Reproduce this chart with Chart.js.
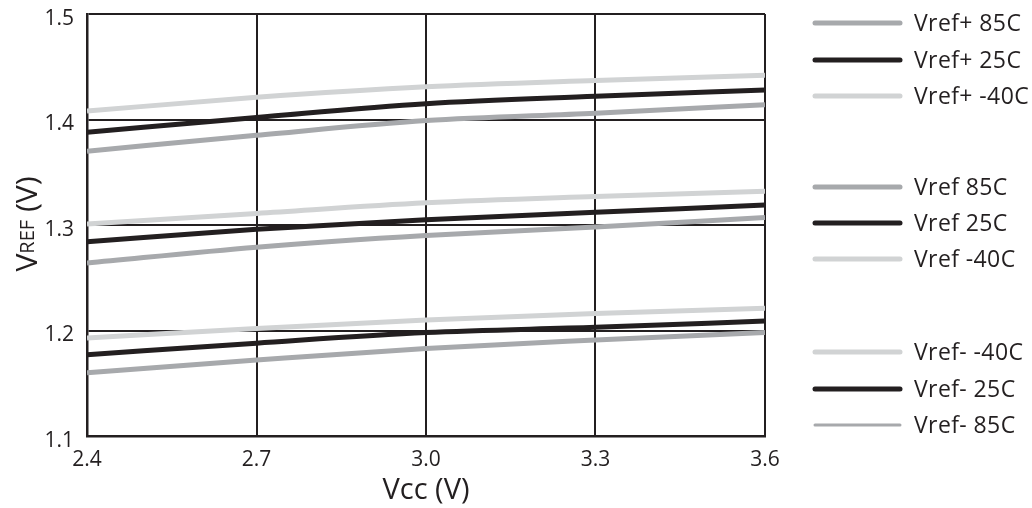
<!DOCTYPE html>
<html>
<head>
<meta charset="utf-8">
<script src="https://cdn.jsdelivr.net/npm/chart.js@4/dist/chart.umd.min.js"></script>
<style>
html,body{margin:0;padding:0;background:#fff;}
#wrap{width:1032px;height:508px;}
</style>
</head>
<body>
<div id="wrap"><canvas id="c" width="1032" height="508"></canvas></div>
<script>
// ---- data ----
const vcc = [2.4, 2.7, 3.0, 3.3, 3.6];
const xTicks = [2.4, 2.7, 3.0, 3.3, 3.6];
const yTicks = [1.1, 1.2, 1.3, 1.4, 1.5];

const vrefPlus85  = [1.370, 1.385, 1.399, 1.406, 1.414];
const vrefPlus25  = [1.388, 1.402, 1.415, 1.422, 1.428];
const vrefPlusM40 = [1.408, 1.421, 1.431, 1.437, 1.442];

const vref85  = [1.264, 1.279, 1.290, 1.298, 1.307];
const vref25  = [1.284, 1.296, 1.305, 1.312, 1.319];
const vrefM40 = [1.301, 1.311, 1.321, 1.327, 1.332];

const vrefMinusM40 = [1.193, 1.202, 1.210, 1.216, 1.221];
const vrefMinus25  = [1.177, 1.188, 1.198, 1.203, 1.209];
const vrefMinus85  = [1.160, 1.172, 1.183, 1.191, 1.198];

const labels = ['Vref+ 85C','Vref+ 25C','Vref+ -40C','Vref 85C','Vref 25C','Vref -40C','Vref- -40C','Vref- 25C','Vref- 85C'];

const LIGHT = '#d1d3d4', MID = '#a7a9ac', DARK = '#231f20';
const FONT = '"Open Sans", "Noto Sans", sans-serif';

function ds(label, vals, color, legendW){
  return {
    label, data: vcc.map((x,i)=>({x, y: vals[i]})),
    borderColor: color, borderWidth: 5, pointRadius: 0, fill: false,
    tension: 0.4, cubicInterpolationMode: 'monotone', legendW: legendW || 5
  };
}

const datasets = [
  ds(labels[0], vrefPlus85, MID),
  ds(labels[1], vrefPlus25, DARK),
  ds(labels[2], vrefPlusM40, LIGHT),
  ds(labels[3], vref85, MID),
  ds(labels[4], vref25, DARK),
  ds(labels[5], vrefM40, LIGHT),
  ds(labels[6], vrefMinusM40, LIGHT),
  ds(labels[7], vrefMinus25, DARK),
  ds(labels[8], vrefMinus85, MID, 3)
];

const legendRows = [23, 60, 96, 187, 223, 259, 352, 389, 425];

const customPlugin = {
  id: 'custom',
  afterDraw(chart){
    const ctx = chart.ctx;
    ctx.save();
    // legend
    chart.data.datasets.forEach((d, i) => {
      const y = legendRows[i];
      ctx.strokeStyle = d.borderColor;
      ctx.lineWidth = d.legendW;
      ctx.lineCap = 'round';
      ctx.beginPath();
      ctx.moveTo(815, y); ctx.lineTo(900, y);
      ctx.stroke();
      ctx.fillStyle = '#231f20';
      ctx.font = '23px ' + FONT;
      try { ctx.letterSpacing = '0.4px'; } catch(e) {}
      ctx.textBaseline = 'middle';
      ctx.textAlign = 'left';
      ctx.fillText(d.label, 914, y + 1);
    });
    try { ctx.letterSpacing = '0px'; } catch(e) {}
    // y title with subscript
    ctx.translate(37, 224);
    ctx.rotate(-Math.PI/2);
    ctx.fillStyle = '#231f20';
    ctx.textBaseline = 'alphabetic';
    const big = '30px ' + FONT, small = '20px ' + FONT;
    ctx.font = big; const w1 = ctx.measureText('V').width;
    ctx.font = small; const w2 = ctx.measureText('REF').width;
    ctx.font = big; const w3 = ctx.measureText(' (V)').width;
    let x0 = -(w1 + w2 + w3)/2;
    ctx.font = big; ctx.fillText('V', x0, 0);
    ctx.font = small; ctx.fillText('REF', x0 + w1, -3);
    ctx.font = big; ctx.fillText(' (V)', x0 + w1 + w2, 0);
    ctx.restore();
  }
};

new Chart(document.getElementById('c'), {
  type: 'line',
  data: { datasets },
  options: {
    responsive: false,
    animation: false,
    events: [],
    layout: { padding: { left: 0, top: 14, right: 267, bottom: 0 } },
    plugins: { legend: { display: false }, tooltip: { enabled: false } },
    scales: {
      x: {
        type: 'linear', min: 2.4, max: 3.6,
        afterBuildTicks: s => { s.ticks = xTicks.map(v => ({ value: v })); },
        afterFit: s => { s.height = 72; s.paddingLeft = 0; s.paddingRight = 0; },
        grid: { color: DARK, lineWidth: 2, drawTicks: false },
        border: { color: DARK, width: 2.5 },
        ticks: { color: '#231f20', font: { family: FONT, size: 21 }, padding: 11,
                 maxRotation: 0, callback: v => Number(v).toFixed(1) },
        title: { display: true, text: 'Vcc (V)', color: '#231f20', font: { family: FONT, size: 29 }, padding: { top: 0, bottom: 0 } }
      },
      y: {
        type: 'linear', min: 1.1, max: 1.5,
        afterBuildTicks: s => { s.ticks = yTicks.map(v => ({ value: v })); },
        afterFit: s => { s.width = 87; s.paddingTop = 0; s.paddingBottom = 0; },
        grid: { color: DARK, lineWidth: 2, drawTicks: false },
        border: { color: DARK, width: 2.5 },
        ticks: { color: '#231f20', font: { family: FONT, size: 21 }, padding: 13, labelOffset: 5,
                 callback: v => Number(v).toFixed(1) }
      }
    }
  },
  plugins: [customPlugin]
});
</script>
</body>
</html>
